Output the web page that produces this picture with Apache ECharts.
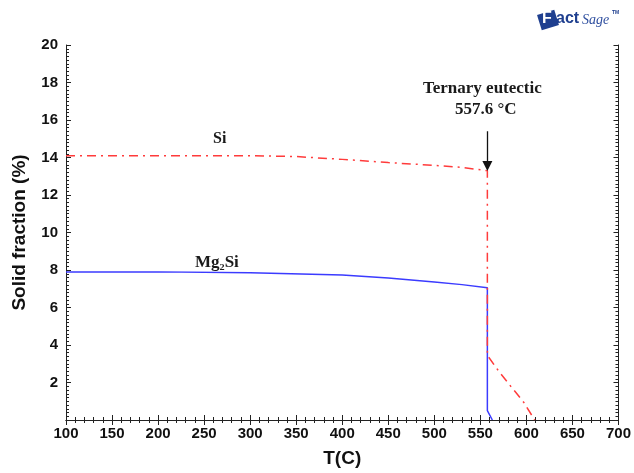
<!DOCTYPE html>
<html>
<head>
<meta charset="utf-8">
<script src="https://cdn.jsdelivr.net/npm/echarts@6/dist/echarts.min.js"></script>
<style>
  html, body { margin: 0; padding: 0; background: #fff; }
  #main { width: 634px; height: 473px; }
</style>
</head>
<body>
<div id="main"></div>
<script>
// temperature (C) and solid fraction (%)
var tempSi = [100, 200, 300, 350, 400, 450, 500, 530, 557.6, 557.6, 570, 583, 597, 609];
var fracSi = [14.1, 14.1, 14.1, 14.05, 13.9, 13.73, 13.58, 13.47, 13.3, 3.45, 2.6, 1.8, 0.95, 0];
var tempMg2Si = [100, 200, 300, 400, 450, 500, 530, 557.6, 557.6, 563];
var fracMg2Si = [7.9, 7.9, 7.85, 7.73, 7.57, 7.36, 7.22, 7.05, 0.5, 0];
var xTicks = [100, 700, 50];   // min, max, step
var yTicks = [0, 20, 2];
var eutecticT = 557.6;

var myChart = echarts.init(document.getElementById('main'));

function pairs(xs, ys) {
  return xs.map(function (x, i) { return [x, ys[i]]; });
}

var tickFont = { color: '#111', fontSize: 15, fontWeight: 'bold', fontFamily: 'Liberation Sans, Arial' };
var axisLine = { show: true, lineStyle: { color: '#222', width: 1 } };
var serif = '"Liberation Serif", "Times New Roman", serif';

var option = {
  animation: false,
  grid: { left: 66, right: 13, top: 45, bottom: 45, containLabel: false },
  xAxis: [{
    type: 'value', min: xTicks[0], max: xTicks[1], interval: xTicks[2],
    name: 'T(C)', nameLocation: 'middle', nameGap: 29,
    nameTextStyle: { color: '#111', fontSize: 19, fontWeight: 'bold', fontFamily: 'Liberation Sans, Arial' },
    axisLine: axisLine,
    axisTick: { inside: true, length: 5, lineStyle: { color: '#222' } },
    minorTick: { show: true, splitNumber: 5, length: 3, lineStyle: { color: '#222' } },
    splitLine: { show: false },
    axisLabel: Object.assign({ margin: 6 }, tickFont)
  }, {
    type: 'value', position: 'top', min: xTicks[0], max: xTicks[1], interval: xTicks[2],
    axisLine: axisLine,
    axisTick: { inside: true, length: 5, lineStyle: { color: '#222' } },
    minorTick: { show: true, splitNumber: 5, length: 3, lineStyle: { color: '#222' } },
    splitLine: { show: false },
    axisLabel: { show: false }
  }],
  yAxis: [{
    type: 'value', min: yTicks[0], max: yTicks[1], interval: yTicks[2],
    name: 'Solid fraction (%)', nameLocation: 'middle', nameGap: 37,
    nameTextStyle: { color: '#111', fontSize: 19, fontWeight: 'bold', fontFamily: 'Liberation Sans, Arial' },
    axisLine: axisLine,
    axisTick: { inside: true, length: 5, lineStyle: { color: '#222' } },
    minorTick: { show: true, splitNumber: 10, length: 3, lineStyle: { color: '#222' } },
    splitLine: { show: false },
    axisLabel: Object.assign({
      margin: 8,
      formatter: function (v) { return v === 0 ? '' : v; }
    }, tickFont)
  }, {
    type: 'value', position: 'right', min: yTicks[0], max: yTicks[1], interval: yTicks[2],
    axisLine: axisLine,
    axisTick: { inside: true, length: 5, lineStyle: { color: '#222' } },
    minorTick: { show: true, splitNumber: 10, length: 3, lineStyle: { color: '#222' } },
    splitLine: { show: false },
    axisLabel: { show: false }
  }],
  series: [
    {
      name: 'Mg2Si', type: 'line', data: pairs(tempMg2Si, fracMg2Si),
      showSymbol: false, smooth: false,
      lineStyle: { color: '#3b3bff', width: 1.5 }
    },
    {
      name: 'Si', type: 'line', data: pairs(tempSi, fracSi),
      showSymbol: false, smooth: false,
      lineStyle: { color: '#ff3b3b', width: 1.5, type: [9, 5, 2, 5] },
      markLine: {
        silent: true,
        symbol: ['none', 'triangle'], symbolSize: 10, symbolRotate: 180,
        lineStyle: { color: '#111', width: 1.3, type: 'solid' },
        itemStyle: { color: '#111' },
        label: { show: false },
        data: [[{ coord: [eutecticT, 15.4] }, { coord: [eutecticT, 13.55] }]]
      }
    }
  ],
  graphic: [
    {
      type: 'text', left: 423, top: 80,
      style: { text: 'Ternary eutectic', fill: '#1a1a1a', font: 'bold 17px ' + serif }
    },
    {
      type: 'text', left: 455, top: 101,
      style: { text: '557.6 \u00B0C', fill: '#1a1a1a', font: 'bold 17px ' + serif }
    },
    {
      type: 'text', left: 213, top: 131,
      style: { text: 'Si', fill: '#1a1a1a', font: 'bold 16px ' + serif }
    },
    {
      type: 'text', left: 195, top: 254,
      style: { text: 'Mg\u2082Si', fill: '#1a1a1a', font: 'bold 17px ' + serif }
    },
    // FactSage logo (approximation)
    {
      type: 'rect', shape: { x: -9, y: -8, width: 18, height: 16 }, x: 548, y: 20, rotation: 0.3,
      style: { fill: '#1f3f8f' }
    },
    {
      type: 'text', left: 542, top: 11,
      style: { text: 'F', fill: '#ffffff', font: 'bold 16px "Liberation Sans", Arial' }
    },
    {
      type: 'text', left: 556, top: 11,
      style: { text: 'act', fill: '#1f3f8f', font: 'bold 16px "Liberation Sans", Arial' }
    },
    {
      type: 'text', left: 582, top: 13,
      style: { text: 'Sage', fill: '#2f4f9f', font: 'italic 14px "Liberation Serif", serif' }
    },
    {
      type: 'text', left: 612, top: 10,
      style: { text: 'TM', fill: '#1f3f8f', font: 'bold 5px "Liberation Sans", Arial' }
    }
  ]
};

myChart.setOption(option);
window.onresize = function () {
  myChart.resize();
};
</script>
</body>
</html>
